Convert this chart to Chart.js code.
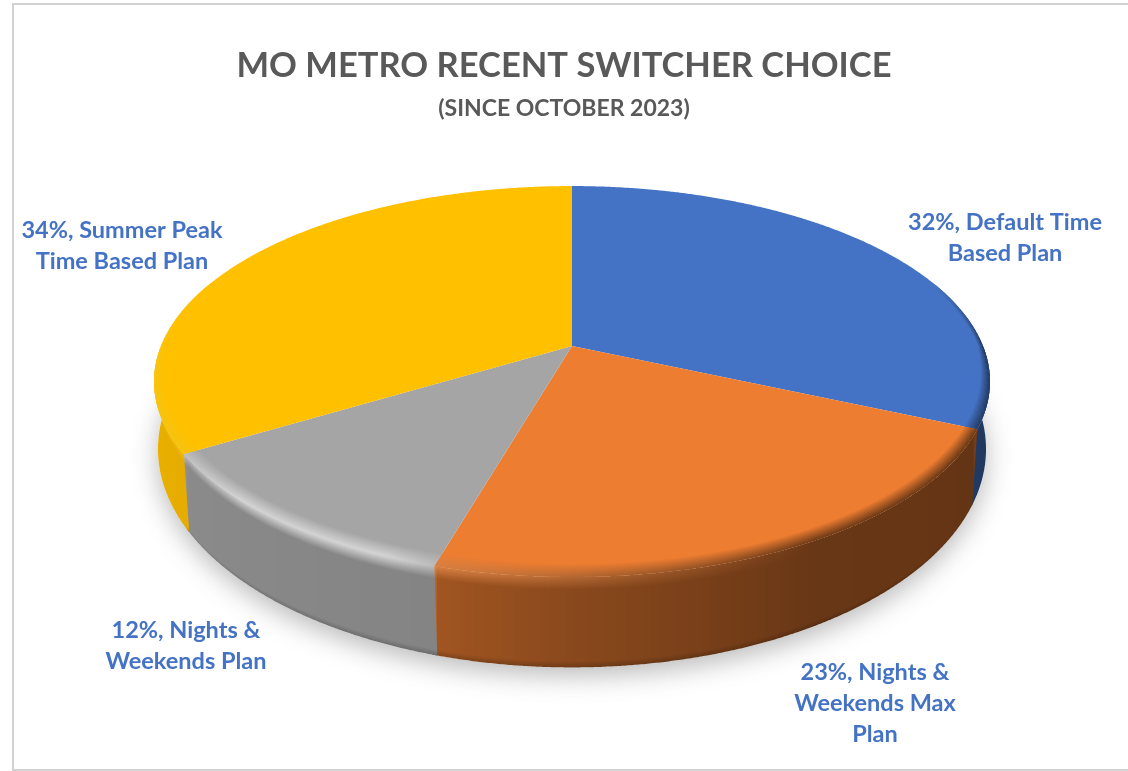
<!DOCTYPE html>
<html>
  <head>
    <title>MO Metro Recent Switcher Choice</title>
    <script src="https://cdn.jsdelivr.net/npm/chart.js"></script>
    <style>
      body {
        margin: 0;
        background: #ffffff;
      }
      #frame {
        position: absolute;
        left: 12px;
        top: 3px;
        width: 1116px;
        height: 764px;
        border: solid #d2d2d2;
        border-width: 2px 0 3px 2px;
      }
      canvas {
        position: absolute;
        left: 0;
        top: 0;
      }
    </style>
  </head>
  <body>
    <div id="frame"></div>
    <canvas id="switcherChart" width="1128" height="771"></canvas>

    <script>
      const categories = [
        ["Default Time", "Based Plan"],
        ["Nights &", "Weekends Max", "Plan"],
        ["Nights &", "Weekends Plan"],
        ["Summer Peak", "Time Based Plan"],
      ];
      const shares = [32, 23, 12, 34];
      const sliceColors = ["#4472C4", "#ED7D31", "#A5A5A5", "#FFC000"];
      const rimColors = ["#4472C4", "#FB9C58", "#E2E2E2", "#FFD21A"];
      const labelAnchors = [
        [1005, 230],
        [875, 680],
        [186, 638],
        [122, 238],
      ];

      // the disc is tilted back, so the top and bottom faces are two projective planes
      const topFace = { cx: 572, cy: 346, a: 411, b: 189, k: 0.1816 };
      const bottomFace = { cx: 572, cy: 412, a: 408, b: 212, k: 0.17 };

      function project(face, angle, r) {
        const x = r * Math.cos(angle);
        const v = r * Math.sin(angle);
        const w = 1 - face.k * v;
        return [face.cx + (face.a * x) / w, face.cy + (face.b * v) / w];
      }

      // side wall brightness and rim highlight, by degrees clockwise from 12 o'clock
      const wallShade = [[90, 0.46], [114, 0.5], [115, 0.42], [150, 0.44], [180, 0.58], [195.9, 0.68], [196, 0.8], [238.7, 0.84], [238.8, 0.9], [360, 1]];
      const rimShade = [[90, 0], [150, 0], [172, 0.25], [196, 0.6], [202, 0.85], [225, 0.85], [239, 0.6], [360, 0.6]];

      function lookup(table, deg) {
        for (let i = 1; i < table.length; i++) {
          if (deg <= table[i][0]) {
            const t = Math.max(0, (deg - table[i - 1][0]) / (table[i][0] - table[i - 1][0]));
            return table[i - 1][1] + t * (table[i][1] - table[i - 1][1]);
          }
        }
        return table[table.length - 1][1];
      }

      function toRgb(hex) {
        return [1, 3, 5].map((i) => parseInt(hex.slice(i, i + 2), 16));
      }
      function mix(c1, c2, t) {
        return c1.map((c, i) => c + (c2[i] - c) * t);
      }
      function css(c) {
        return `rgb(${c.map(Math.round).join(",")})`;
      }

      const STEP = Math.PI / 720;

      function shadeAt(angle, index, base) {
        const deg = (((angle + Math.PI / 2) * 180) / Math.PI) % 360;
        const wall = mix([0, 0, 0], base, lookup(wallShade, deg));
        const edge = mix(wall, toRgb(rimColors[index]), lookup(rimShade, deg));
        return { wall, edge };
      }

      function drawShadow(ctx) {
        ctx.save();
        ctx.shadowColor = "rgba(90,90,90,0.42)";
        ctx.shadowBlur = 26;
        ctx.shadowOffsetY = 8;
        ctx.fillStyle = "#ffffff";
        ctx.beginPath();
        for (let a = 0; a < Math.PI * 2; a += 0.02) {
          const p = project(bottomFace, a, 1);
          ctx.lineTo(p[0], p[1]);
        }
        ctx.closePath();
        ctx.fill();
        ctx.restore();
      }

      // angle on the front half whose wall passes through column x
      function angleAtColumn(x) {
        let lo = 0.2;
        let hi = Math.PI - 0.2;
        for (let i = 0; i < 24; i++) {
          const mid = (lo + hi) / 2;
          const midX = (project(topFace, mid, 1)[0] + project(bottomFace, mid, 1)[0]) / 2;
          if (midX > x) lo = mid;
          else hi = mid;
        }
        return (lo + hi) / 2;
      }

      // walls are painted in whole pixel columns, clipped to each slice's outline
      function drawWalls(ctx, arcs) {
        arcs.forEach((arc, index) => {
          const base = toRgb(arc.options.backgroundColor);
          const from = Math.max(arc.startAngle, -0.15);
          const to = Math.min(arc.endAngle + 0.01, Math.PI + 0.15);
          if (to <= from) return;

          const outline = [];
          for (let a = from; a < to; a += STEP) outline.push(project(topFace, a, 1));
          outline.push(project(topFace, to, 1), project(bottomFace, to, 1));
          for (let a = to; a > from; a -= STEP) outline.push(project(bottomFace, a, 1));
          outline.push(project(bottomFace, from, 1));

          ctx.save();
          ctx.beginPath();
          outline.forEach((p) => ctx.lineTo(p[0], p[1]));
          ctx.closePath();
          ctx.clip();

          const xs = outline.map((p) => p[0]);
          const left = Math.floor(Math.min(...xs));
          const right = Math.ceil(Math.max(...xs));
          for (let x = left; x <= right; x++) {
            const raw = angleAtColumn(x + 0.5);
            const a = Math.min(Math.max(raw, arc.startAngle + 0.001), arc.endAngle - 0.001);
            const { wall, edge } = shadeAt(a, index, base);
            const y1 = project(topFace, a, 1)[1];
            const y2 = project(bottomFace, a, 1)[1];
            const grad = ctx.createLinearGradient(0, y1, 0, y2);
            grad.addColorStop(0, css(edge));
            grad.addColorStop(0.14, css(wall));
            grad.addColorStop(0.93, css(wall));
            grad.addColorStop(1, css(mix(wall, [0, 0, 0], 0.2)));
            ctx.fillStyle = grad;
            ctx.fillRect(x, y1 - 60, 1, y2 - y1 + 120);
          }
          ctx.restore();
        });
      }

      function drawTop(ctx, arcs) {
        arcs.forEach((arc) => {
          ctx.fillStyle = arc.options.backgroundColor;
          ctx.beginPath();
          ctx.moveTo(topFace.cx, topFace.cy);
          for (let a = arc.startAngle; a < arc.endAngle; a += STEP) {
            const p = project(topFace, a, 1);
            ctx.lineTo(p[0], p[1]);
          }
          const last = project(topFace, arc.endAngle, 1);
          ctx.lineTo(last[0], last[1]);
          ctx.closePath();
          ctx.fill();
        });
      }

      // soft roll-off from the top face into the wall colour, widest at the front
      function drawBevel(ctx, arcs) {
        arcs.forEach((arc, index) => {
          const base = toRgb(arc.options.backgroundColor);
          for (let a = arc.startAngle; a < arc.endAngle; a += STEP) {
            const v = Math.sin(a);
            if (v < -0.35) continue;
            const end = Math.min(a + STEP * 1.5, arc.endAngle);
            const { edge } = shadeAt(a, index, base);
            const fade = Math.min(1, (v + 0.35) / 0.35);
            const inner = 1 - (0.012 + 0.036 * Math.pow(Math.max(v, 0), 0.7));
            const i1 = project(topFace, a, inner);
            const i2 = project(topFace, end, inner);
            const o1 = project(topFace, a, 1);
            const o2 = project(topFace, end, 1);
            const grad = ctx.createLinearGradient(i1[0], i1[1], o1[0], o1[1]);
            grad.addColorStop(0, css(base));
            grad.addColorStop(1, css(mix(base, edge, fade)));
            ctx.fillStyle = grad;
            ctx.beginPath();
            ctx.moveTo(i1[0], i1[1]);
            ctx.lineTo(i2[0], i2[1]);
            ctx.lineTo(o2[0], o2[1]);
            ctx.lineTo(o1[0], o1[1]);
            ctx.closePath();
            ctx.fill();
          }
        });
      }

      function drawLabels(ctx, arcs) {
        ctx.save();
        ctx.font = "bold 23.5px Lato";
        ctx.fillStyle = "#4472C4";
        ctx.textAlign = "center";
        arcs.forEach((arc, i) => {
          const lines = categories[i].slice();
          lines[0] = `${shares[i]}%, ${lines[0]}`;
          lines.forEach((line, j) => {
            ctx.fillText(line, labelAnchors[i][0], labelAnchors[i][1] + j * 31);
          });
        });
        ctx.restore();
      }

      const tiltedPie = {
        id: "tiltedPie",
        beforeDatasetsDraw(chart) {
          const ctx = chart.ctx;
          const arcs = chart.getDatasetMeta(0).data;
          drawShadow(ctx);
          drawWalls(ctx, arcs);
          drawTop(ctx, arcs);
          drawBevel(ctx, arcs);
          drawLabels(ctx, arcs);
          return false;
        },
      };

      new Chart(document.getElementById("switcherChart"), {
        type: "pie",
        data: {
          labels: categories,
          datasets: [{ data: shares, backgroundColor: sliceColors }],
        },
        options: {
          responsive: false,
          animation: false,
          layout: { padding: { top: 45 } },
          plugins: {
            legend: { display: false },
            tooltip: { enabled: false },
            title: {
              display: true,
              text: "MO METRO RECENT SWITCHER CHOICE",
              color: "#595959",
              font: { family: "Lato", size: 34.5, weight: "bold" },
              padding: { top: 0, bottom: 8 },
            },
            subtitle: {
              display: true,
              text: "(SINCE OCTOBER 2023)",
              color: "#595959",
              font: { family: "Lato", size: 23, weight: "bold" },
            },
          },
        },
        plugins: [tiltedPie],
      });
    </script>
  </body>
</html>
